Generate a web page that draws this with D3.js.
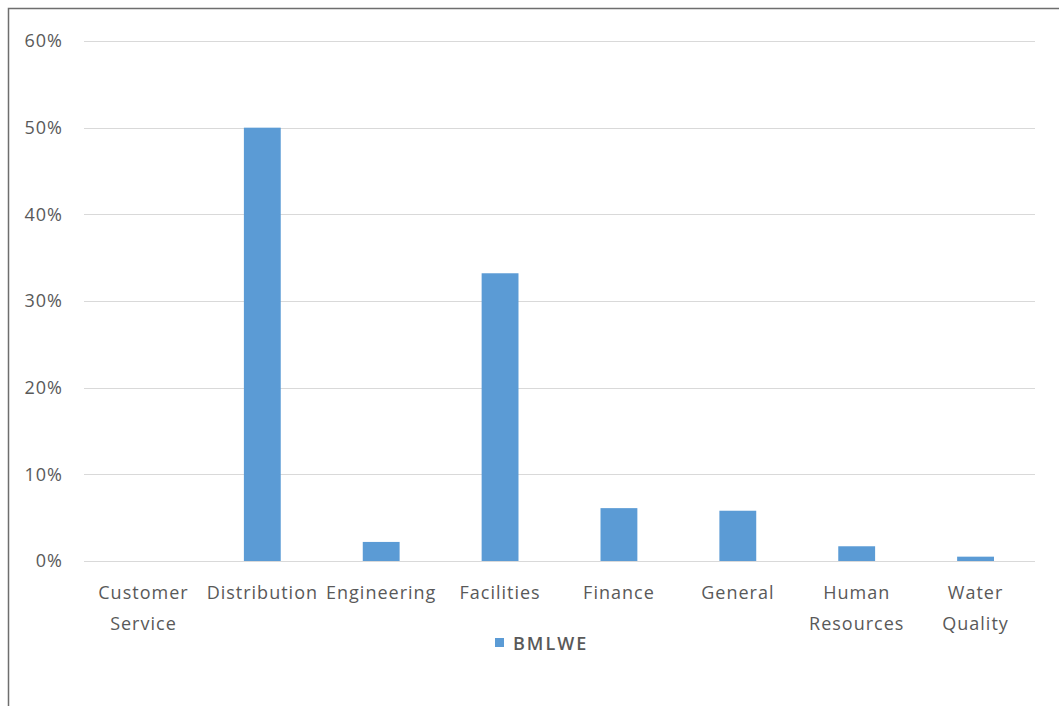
<!DOCTYPE html>
<html>
<head>
<meta charset="utf-8">
<script src="https://cdn.jsdelivr.net/npm/d3@7"></script>
<style>
  html, body { margin: 0; padding: 0; background: #fff; }
  svg text { font-family: "Open Sans", sans-serif; fill: #595959; }
</style>
</head>
<body>
<div id="chart"></div>
<script>
// data
const categories = ["Customer Service", "Distribution", "Engineering", "Facilities",
                    "Finance", "General", "Human Resources", "Water Quality"];
const values = [0, 0.50, 0.022, 0.332, 0.061, 0.058, 0.017, 0.005];
const yTicks = [0, 0.1, 0.2, 0.3, 0.4, 0.5, 0.6];
const seriesName = "BMLWE";

const cfg = {
  width: 1059,
  height: 706,
  margin: { left: 84, right: 24, top: 41, bottom: 145 }
};
const barColor = "#5b9bd5";
const fontFam = "'Open Sans', sans-serif";

const svg = d3.select("#chart")
  .append("svg")
  .attr("width", cfg.width)
  .attr("height", cfg.height);

// chart frame (only top/left edges fall inside the window)
svg.append("rect")
  .attr("x", 8.5)
  .attr("y", 8.5)
  .attr("width", cfg.width + 10)
  .attr("height", cfg.height + 10)
  .attr("fill", "none")
  .attr("stroke", "#6e6e6e")
  .attr("stroke-width", 1.5);

const x = d3.scaleBand()
  .domain(categories)
  .range([cfg.margin.left, cfg.width - cfg.margin.right])
  .paddingInner(0.69)
  .paddingOuter(0.345);

const y = d3.scaleLinear()
  .domain([0, 0.6])
  .range([cfg.height - cfg.margin.bottom, cfg.margin.top]);

// gridlines
svg.append("g")
  .attr("class", "grid")
  .selectAll("line")
  .data(yTicks)
  .join("line")
    .attr("x1", cfg.margin.left)
    .attr("x2", cfg.width - cfg.margin.right)
    .attr("y1", d => Math.round(y(d)) + 0.5)
    .attr("y2", d => Math.round(y(d)) + 0.5)
    .attr("stroke", "#d9d9d9")
    .attr("stroke-width", 1);

// y axis labels
const yAxis = d3.axisLeft(y)
  .tickValues(yTicks)
  .tickFormat(d3.format(".0%"))
  .tickSize(0)
  .tickPadding(0);

svg.append("g")
  .attr("transform", `translate(${cfg.margin.left - 21},0)`)
  .call(yAxis)
  .call(g => g.select(".domain").remove())
  .call(g => g.selectAll("text")
    .style("font-family", fontFam)
    .style("letter-spacing", "1px")
    .attr("font-size", 18)
    .attr("fill", "#595959"));

// bars
svg.append("g")
  .attr("class", "bars")
  .selectAll("rect")
  .data(values)
  .join("rect")
    .attr("x", (d, i) => x(categories[i]))
    .attr("width", x.bandwidth())
    .attr("y", d => y(d))
    .attr("height", d => y(0) - y(d))
    .attr("fill", barColor);

// x axis labels, wrapped on spaces like the original
const xAxis = d3.axisBottom(x).tickSize(0).tickPadding(0);
const xg = svg.append("g")
  .attr("transform", `translate(0,${y(0)})`)
  .call(xAxis)
  .call(g => g.select(".domain").remove());

xg.selectAll("text")
  .style("font-family", fontFam)
  .style("letter-spacing", "1px")
  .attr("font-size", 18)
  .attr("fill", "#595959")
  .attr("dy", null)
  .attr("y", 0)
  .each(function(d) {
    const t = d3.select(this);
    const words = d.split(" ");
    t.text(null);
    words.forEach((w, i) => {
      t.append("tspan")
        .attr("x", 0)
        .attr("y", 38 + i * 31)
        .text(w);
    });
  });

// legend
const legend = svg.append("g")
  .attr("transform", `translate(495,643)`);
legend.append("rect")
  .attr("x", 0)
  .attr("y", -5)
  .attr("width", 9)
  .attr("height", 9)
  .attr("fill", barColor);
legend.append("text")
  .attr("x", 18)
  .attr("y", 6.5)
  .attr("font-size", 18)
  .attr("font-weight", 600)
  .style("font-family", fontFam)
  .style("letter-spacing", "2px")
  .attr("fill", "#404040")
  .text(seriesName);
</script>
</body>
</html>
